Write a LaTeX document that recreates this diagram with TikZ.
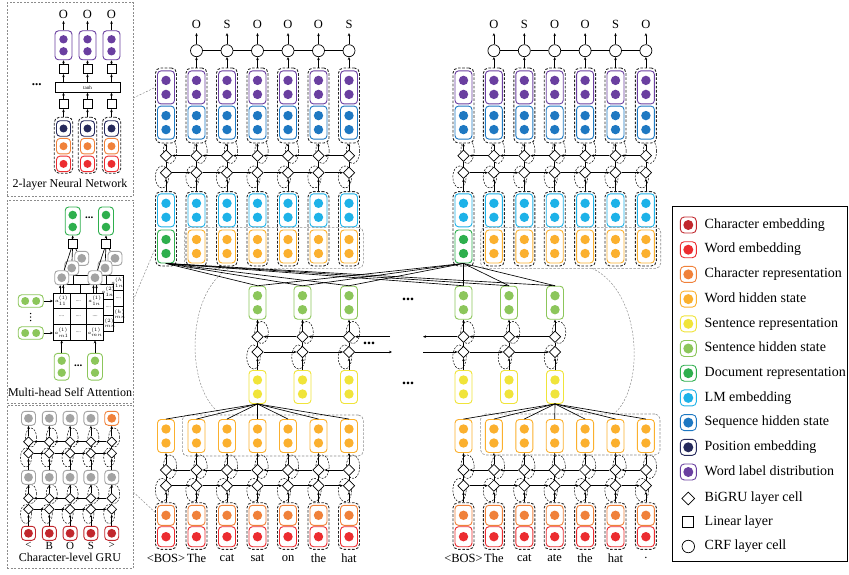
\documentclass[tikz,border=0pt]{standalone}
\usepackage{fontspec}
\setmainfont{Liberation Serif}
\usetikzlibrary{arrows.meta,shapes.geometric,calc}

\definecolor{cCharEmb}{HTML}{C1272D}
\definecolor{cWordEmb}{HTML}{EC2C30}
\definecolor{cCharRep}{HTML}{F0813A}
\definecolor{cWord}{HTML}{FBB02E}
\definecolor{cSentRep}{HTML}{F0E43A}
\definecolor{cSent}{HTML}{8CC65B}
\definecolor{cDoc}{HTML}{2EAF4D}
\definecolor{cLM}{HTML}{1DB2E8}
\definecolor{cSeq}{HTML}{1E78C2}
\definecolor{cPos}{HTML}{262A5C}
\definecolor{cLab}{HTML}{6A3FA0}
\definecolor{cGray}{HTML}{A3A3A3}

\tikzset{
  pill/.style={draw=#1, fill=white, line width=0.9pt, rounded corners=3.5pt, inner sep=0pt, minimum width=17pt},
  dots2/.style n args={3}{path picture={
      \fill[#1] ([yshift=#2]path picture bounding box.center) circle[radius=#3];
      \fill[#1] ([yshift=-#2]path picture bounding box.center) circle[radius=#3];}},
  dotsh/.style n args={3}{path picture={
      \fill[#1] ([xshift=#2]path picture bounding box.center) circle[radius=#3];
      \fill[#1] ([xshift=-#2]path picture bounding box.center) circle[radius=#3];}},
  dots1/.style n args={2}{path picture={
      \fill[#1] (path picture bounding box.center) circle[radius=#2];}},
  pilltwo/.style={pill=#1, dots2={#1}{7pt}{4.7pt}, minimum height=33pt},
  pillone/.style={pill=#1, dots1={#1}{4.7pt}, minimum height=20pt},
  gnode/.style={pill=#1, dots1={#1}{4.4pt}, minimum width=14pt, minimum height=14pt},
  obox/.style={draw=black!85, dash pattern=on 2.6pt off 1.6pt, line width=0.9pt,
      rounded corners=5pt, fill=white, inner sep=0pt, minimum width=21pt},
  cell/.style={diamond, draw, fill=white, line width=0.7pt, minimum width=11.5pt,
      minimum height=11.5pt, inner sep=0pt},
  cellsm/.style={cell, minimum width=10pt, minimum height=10pt},
  crf/.style={circle, draw, fill=white, line width=0.7pt, minimum size=12pt, inner sep=0pt},
  lin/.style={draw, fill=white, line width=0.7pt, minimum size=9pt, inner sep=0pt},
  arr/.style={line width=0.65pt, -{Stealth[length=3pt,width=2.6pt]}},
  ln/.style={line width=0.65pt},
  dring/.style={dash pattern=on 2pt off 1.3pt, line width=0.5pt},
  gdash/.style={draw=black!45, dash pattern=on 2pt off 1.5pt, line width=0.5pt},
  grect/.style={draw=black!45, dash pattern=on 2.5pt off 1.5pt, line width=0.6pt,
      rounded corners=5pt, inner sep=0pt},
  inbox/.style={draw=black!45, dash pattern=on 2pt off 1.5pt, line width=0.6pt, inner sep=0pt},
  lbl/.style={font=\fontsize{12.5}{14}\selectfont, inner sep=1pt},
  ttl/.style={font=\fontsize{12}{14}\selectfont, inner sep=0pt},
  leg/.style={font=\fontsize{14}{16}\selectfont, anchor=west, inner sep=0pt,
      text height=9.5pt, text depth=3pt},
  dotdot/.style={font=\fontsize{16}{16}\selectfont\bfseries, inner sep=0pt},
  tiny/.style={font=\fontsize{5}{6}\selectfont, inner sep=0pt},
}

% one sentence column group: name, first x, column step
\newcommand\drawgroup[3]{%
  \foreach \i in {1,...,7}{%
    \pgfmathsetmacro\xx{#2+(\i-1)*#3}
    \draw[dring] (\xx+4,151) ellipse[x radius=6.7pt, y radius=12.5pt];
    \draw[dring] (\xx-4,177) ellipse[x radius=6.7pt, y radius=11pt];
    \draw[dring] (\xx+4,466.7) ellipse[x radius=6.7pt, y radius=11.7pt];
    \draw[dring] (\xx-4,490) ellipse[x radius=6.7pt, y radius=11.7pt];
  }
  \foreach \i in {1,...,7}{%
    \pgfmathsetmacro\xx{#2+(\i-1)*#3}
    % upper tagging stack
    \node[obox, minimum height=75pt] (#1-top-\i) at (\xx,105.5) {};
    \node[pilltwo=cLab] (#1-lab-\i) at (\xx,87.4) {};
    \node[pilltwo=cSeq] (#1-seq-\i) at (\xx,122.6) {};
    \node[cell] (#1-ua-\i) at (\xx,155.7) {};
    \node[cell] (#1-ub-\i) at (\xx,172.7) {};
    \node[obox, minimum height=74.3pt] (#1-mid-\i) at (\xx,228.8) {};
    \node[pilltwo=cLM] (#1-lm-\i) at (\xx,210.3) {};
    \ifnum\i=1
      \node[pilltwo=cDoc] (#1-wh-\i) at (\xx,246.5) {};
    \else
      \node[pilltwo=cWord] (#1-wh-\i) at (\xx,246.5) {};
    \fi
    % lower word encoder stack
    \node[pilltwo=cWord] (#1-wo-\i) at (\xx,436) {};
    \node[cell] (#1-ba-\i) at (\xx,470) {};
    \node[cell] (#1-bb-\i) at (\xx,485.7) {};
    \node[obox, minimum height=46.6pt] (#1-emb-\i) at (\xx,526) {};
    \node[pillone=cCharRep] (#1-cr-\i) at (\xx,515.3) {};
    \node[pillone=cWordEmb] (#1-we-\i) at (\xx,536.7) {};
    \draw[arr] (#1-mid-\i) -- (#1-ub-\i);
    \draw[ln] (#1-ub-\i) -- (#1-ua-\i);
    \draw[arr] (#1-ua-\i) -- (#1-top-\i);
    \draw[arr] (#1-emb-\i) -- (#1-bb-\i);
    \draw[ln] (#1-bb-\i) -- (#1-ba-\i);
    \draw[arr] (#1-ba-\i) -- (#1-wo-\i);
  }
  \foreach \i [evaluate=\i as \j using int(\i+1)] in {1,...,6}{%
    \draw[arr] (#1-ua-\j) -- (#1-ua-\i);
    \draw[arr] (#1-ub-\i) -- (#1-ub-\j);
    \draw[arr] (#1-ba-\j) -- (#1-ba-\i);
    \draw[arr] (#1-bb-\i) -- (#1-bb-\j);
  }
  \foreach \i in {2,...,7}{%
    \pgfmathsetmacro\xx{#2+(\i-1)*#3}
    \node[crf] (#1-crf-\i) at (\xx,50.7) {};
    \draw[arr] (#1-top-\i) -- (#1-crf-\i);
  }
  \draw[ln] (#1-crf-2) -- (#1-crf-3) -- (#1-crf-4) -- (#1-crf-5) -- (#1-crf-6) -- (#1-crf-7);
}

% attention score grid frame: left x, top y
\newcommand\gridframe[2]{%
  \filldraw[fill=white, line width=0.6pt] (#1,#2) rectangle ++(50,47);
  \draw[line width=0.5pt] (#1+16.67,#2) -- ++(0,47) (#1+33.33,#2) -- ++(0,47)
    (#1,#2+15.67) -- ++(50,0) (#1,#2+31.33) -- ++(50,0);
}
% scores written into the front grid
\newcommand\gridscores[2]{%
  \node[tiny] at (#1+8.3,#2+7.8) {$a^{(1)}_{11}$};
  \node[tiny] at (#1+25,#2+7.8) {....};
  \node[tiny] at (#1+41.7,#2+7.8) {$a^{(1)}_{1n}$};
  \node[tiny] at (#1+8.3,#2+23.5) {....};
  \node[tiny] at (#1+25,#2+23.5) {....};
  \node[tiny] at (#1+41.7,#2+23.5) {....};
  \node[tiny] at (#1+8.3,#2+39.2) {$a^{(1)}_{m1}$};
  \node[tiny] at (#1+25,#2+39.2) {....};
  \node[tiny] at (#1+41.7,#2+39.2) {$a^{(1)}_{mn}$};
}
% visible right strip of a rear grid: strip centre x, top y, head label
\newcommand\gridstrip[3]{%
  \node[tiny] at (#1,#2+7.8) {$a^{(#3)}_{1n}$};
  \node[tiny] at (#1,#2+23.5) {....};
  \node[tiny] at (#1,#2+39.2) {$a^{(#3)}_{mn}$};
}

\begin{document}
\begin{tikzpicture}[x=1pt,y=-1pt]
\useasboundingbox (0,0) rectangle (849,575);

% ---------- document-level frame arcs ----------
\draw[gdash] (229,268.3) .. controls (186,292) and (184,390) .. (222,415);
\draw[gdash] (592,268.3) .. controls (643,292) and (645,390) .. (613,414.5);

% ---------- two sentence groups ----------
\drawgroup{L}{166}{30.5}
\drawgroup{R}{463.5}{30.4}

\node[grect, minimum width=179pt, minimum height=41pt] (L-wrect) at (273.8,247.8) {};
\node[grect, minimum width=180pt, minimum height=41pt] (R-wrect) at (570.7,247.8) {};
\node[grect, minimum width=181pt, minimum height=41pt] (L-orect) at (272.8,435.5) {};
\node[grect, minimum width=179.3pt, minimum height=41pt] (R-orect) at (570.3,434.5) {};

% output tags
\foreach \i/\t in {2/O,3/S,4/O,5/O,6/O,7/S}{
  \node[lbl, inner ysep=4.2pt] (L-out-\i) at (L-crf-\i |- 0,24.5) {\t};
  \draw[arr] (L-crf-\i) -- (L-out-\i);
}
\foreach \i/\t in {2/O,3/S,4/O,5/O,6/S,7/O}{
  \node[lbl, inner ysep=4.2pt] (R-out-\i) at (R-crf-\i |- 0,24.5) {\t};
  \draw[arr] (R-crf-\i) -- (R-out-\i);
}

% input words
\foreach \i/\t in {1/{<BOS>},2/The,3/cat,4/sat,5/on,6/the,7/hat}{
  \node[lbl] (L-w-\i) at (L-emb-\i |- 0,558.3) {\t};
}
\foreach \i/\t in {1/{<BOS>},2/The,3/cat,4/ate,5/the,6/hat,7/.}{
  \node[lbl] (R-w-\i) at (R-emb-\i |- 0,558.3) {\t};
}

% ---------- document-level BiGRU ----------
\foreach \g/\x/\k in {L/257.5/1,L/302.5/2,L/349/3,R/463.5/1,R/509/2,R/555/3}{
  \draw[dring] (\x+4,332.5) ellipse[x radius=6.8pt, y radius=11pt];
  \draw[dring] (\x-4,357) ellipse[x radius=6.8pt, y radius=12pt];
  \node[pilltwo=cSent] (\g-s-\k) at (\x,302.7) {};
  \node[cell] (\g-da-\k) at (\x,336.7) {};
  \node[cell] (\g-db-\k) at (\x,352) {};
  \node[pilltwo=cSentRep] (\g-r-\k) at (\x,387) {};
  \draw[arr] (\g-r-\k) -- (\g-db-\k);
  \draw[ln] (\g-db-\k) -- (\g-da-\k);
  \draw[arr] (\g-da-\k) -- (\g-s-\k);
}
\coordinate (L-aend) at (390,336.7);
\coordinate (L-bend) at (392,352);
\coordinate (R-aend) at (423,336.7);
\coordinate (R-bend) at (423,352);
\draw[arr] (L-da-2) -- (L-da-1);
\draw[arr] (L-da-3) -- (L-da-2);
\draw[arr] (L-aend) -- (L-da-3);
\draw[arr] (L-db-1) -- (L-db-2);
\draw[arr] (L-db-2) -- (L-db-3);
\draw[arr] (L-db-3) -- (L-bend);
\draw[arr] (R-da-1) -- (R-aend);
\draw[arr] (R-da-2) -- (R-da-1);
\draw[arr] (R-da-3) -- (R-da-2);
\draw[arr] (R-bend) -- (R-db-1);
\draw[arr] (R-db-1) -- (R-db-2);
\draw[arr] (R-db-2) -- (R-db-3);

\node[dotdot] (dots-a) at (408,299) {...};
\node[dotdot] (dots-b) at (408,383) {...};
\node[dotdot] (dots-c) at (369,343) {...};

% attention links from document representation to sentence states
\foreach \t in {L-s-1,L-s-2,L-s-3,R-s-1,R-s-2,R-s-3}{
  \draw[ln] (L-wh-1.south) -- (\t.north);
  \draw[ln] (R-wh-1.south) -- (\t.north);
}
% word states pooled into sentence representations
\foreach \i in {1,...,7}{
  \draw[ln] (L-r-1.south) -- (L-wo-\i.north);
  \draw[ln] (R-r-3.south) -- (R-wo-\i.north);
}

% ---------- inset: 2-layer neural network ----------
\node[inbox, minimum width=126pt, minimum height=193.3pt] (nnbox) at (70.3,99.35) {};
\node[ttl] (nntitle) at (70,185) {2-layer Neural Network};
\node[lin, minimum width=65pt, minimum height=9.7pt, font=\fontsize{5}{5}\selectfont] (tanh) at (87.5,87.5) {tanh};
\node[dotdot, font=\fontsize{13}{13}\selectfont\bfseries] (nndots) at (36.7,85) {...};
\foreach \i/\x in {1/63.5,2/87.5,3/111.5}{
  \node[lbl, inner ysep=2.5pt] (nn-o-\i) at (\x,14) {O};
  \node[pill=cLab, dots2={cLab}{6pt}{4.2pt}, minimum height=29pt] (nn-p-\i) at (\x,45.3) {};
  \node[lin] (nn-sa-\i) at (\x,69.3) {};
  \node[lin] (nn-sb-\i) at (\x,104.3) {};
  \node[obox, minimum width=18.5pt, minimum height=56pt] (nn-ob-\i) at (\x,145.3) {};
  \node[pill=cPos, dots1={cPos}{4pt}, minimum width=14pt, minimum height=15.5pt] (nn-pe-\i) at (\x,128.5) {};
  \node[pill=cCharRep, dots1={cCharRep}{4pt}, minimum width=14pt, minimum height=15.5pt] (nn-cr-\i) at (\x,146.2) {};
  \node[pill=cWordEmb, dots1={cWordEmb}{4pt}, minimum width=14pt, minimum height=15.5pt] (nn-we-\i) at (\x,163.9) {};
  \draw[arr] (nn-ob-\i) -- (nn-sb-\i);
  \draw[arr] (nn-sb-\i) -- (nn-sb-\i |- tanh.south);
  \draw[arr] (tanh.north -| nn-sa-\i) -- (nn-sa-\i);
  \draw[arr] (nn-sa-\i) -- (nn-p-\i);
  \draw[arr] (nn-p-\i) -- (nn-o-\i);
}

% ---------- inset: multi-head self attention ----------
\node[inbox, minimum width=126pt, minimum height=203.3pt] (atbox) at (70.3,301.65) {};
\node[ttl] (attitle) at (70,392.3) {Multi-head Self Attention};
\gridframe{73.3}{275}
\gridstrip{118.3}{275}{h}
\gridframe{63.3}{284}
\gridstrip{108.3}{284}{2}
\node[draw, fill=white, line width=0.6pt, minimum width=50pt, minimum height=47pt, inner sep=0pt] (grid) at (78.3,316.5) {};
\gridframe{53.3}{293}
\gridscores{53.3}{293}
\node[gnode=cGray] (g-a3) at (81.7,258.3) {};
\node[gnode=cGray] (g-a2) at (71.7,268) {};
\node[gnode=cGray] (g-a1) at (61.7,277.7) {};
\node[gnode=cGray] (g-b3) at (115,258.3) {};
\node[gnode=cGray] (g-b2) at (105,268) {};
\node[gnode=cGray] (g-b1) at (95,277.7) {};
\node[lin] (at-sq1) at (72.7,244.3) {};
\node[lin] (at-sq2) at (106,244.3) {};
\node[pill=cDoc, dots2={cDoc}{6pt}{4.3pt}, minimum width=15pt, minimum height=28pt] (at-d1) at (72.7,221) {};
\node[pill=cDoc, dots2={cDoc}{6pt}{4.3pt}, minimum width=15pt, minimum height=28pt] (at-d2) at (106,221) {};
\node[dotdot, font=\fontsize{11}{11}\selectfont\bfseries] (at-dots1) at (89.3,218) {...};
\draw[arr] (at-sq1) -- (at-d1);
\draw[arr] (at-sq2) -- (at-d2);
\foreach \k in {1,2,3}{
  \draw[ln] (g-a\k) -- (at-sq1);
  \draw[ln] (g-b\k) -- (at-sq2);
}
\foreach \n in {g-a1,g-b1}{
  \draw[arr] ([xshift=-1.5pt]\n.south |- grid.north) -- ([xshift=-1.5pt]\n.south);
  \draw[arr] ([xshift=1.5pt]\n.south |- grid.north) -- ([xshift=1.5pt]\n.south);
}
\node[pill=cSent, dotsh={cSent}{5.5pt}{4pt}, minimum width=25pt, minimum height=12.5pt] (at-l1) at (30.7,301) {};
\node[pill=cSent, dotsh={cSent}{5.5pt}{4pt}, minimum width=25pt, minimum height=12.5pt] (at-l2) at (30.7,333) {};
% vertical ellipsis between the two sentence rows
\foreach \yy in {313.5,317,320.5}{ \fill (30.7,\yy) circle[radius=0.75pt]; }
\draw[arr] (at-l1) -- (at-l1 -| grid.west);
\draw[arr] (at-l2) -- (at-l2 -| grid.west);
\node[pill=cSent, dots2={cSent}{6pt}{4.2pt}, minimum width=15pt, minimum height=26.7pt] (at-b1) at (61.7,366.7) {};
\node[pill=cSent, dots2={cSent}{6pt}{4.2pt}, minimum width=15pt, minimum height=26.7pt] (at-b2) at (95,366.7) {};
\node[dotdot, font=\fontsize{11}{11}\selectfont\bfseries] (at-dots2) at (78.3,366) {...};
\draw[arr] (at-b1) -- (at-b1 |- grid.south);
\draw[arr] (at-b2) -- (at-b2 |- grid.south);

% ---------- inset: character-level GRU ----------
\node[inbox, minimum width=126pt, minimum height=163.3pt] (gbox) at (70.3,486.65) {};
\node[ttl] (gtitle) at (70,557.3) {Character-level GRU};
\foreach \i/\x in {1/28.5,2/49.3,3/70.1,4/90.9,5/111.7}{
  \draw[dring] (\x+2.5,437.5) ellipse[x radius=5.5pt, y radius=9.5pt];
  \draw[dring] (\x-2.5,457.5) ellipse[x radius=5.5pt, y radius=9.5pt];
  \draw[dring] (\x+2.5,494) ellipse[x radius=5.5pt, y radius=9.5pt];
  \draw[dring] (\x-2.5,514) ellipse[x radius=5.5pt, y radius=9.5pt];
}
\foreach \i/\x/\t in {1/28.5/<,2/49.3/B,3/70.1/O,4/90.9/S,5/111.7/>}{
  \ifnum\i=5
    \node[gnode=cCharRep] (c-t-\i) at (\x,418.3) {};
  \else
    \node[gnode=cGray] (c-t-\i) at (\x,418.3) {};
  \fi
  \node[cellsm] (c-a-\i) at (\x,441.7) {};
  \node[cellsm] (c-b-\i) at (\x,453.3) {};
  \node[gnode=cGray] (c-m-\i) at (\x,477.3) {};
  \node[cellsm] (c-c-\i) at (\x,498.3) {};
  \node[cellsm] (c-d-\i) at (\x,509.3) {};
  \node[gnode=cCharEmb] (c-e-\i) at (\x,533.3) {};
  \node[lbl, font=\fontsize{11}{12}\selectfont] (c-ch-\i) at (\x,545.5) {\t};
  \draw[arr] (c-e-\i) -- (c-d-\i);
  \draw[ln] (c-d-\i) -- (c-c-\i);
  \draw[arr] (c-c-\i) -- (c-m-\i);
  \draw[arr] (c-m-\i) -- (c-b-\i);
  \draw[ln] (c-b-\i) -- (c-a-\i);
  \draw[arr] (c-a-\i) -- (c-t-\i);
}
\foreach \i [evaluate=\i as \j using int(\i+1)] in {1,...,4}{
  \draw[arr] (c-a-\j) -- (c-a-\i);
  \draw[arr] (c-b-\i) -- (c-b-\j);
  \draw[arr] (c-c-\j) -- (c-c-\i);
  \draw[arr] (c-d-\i) -- (c-d-\j);
}

% ---------- zoom links from insets ----------
\coordinate (lk1) at (133.3,98);
\coordinate (lk2) at (133.3,300);
\coordinate (lk3) at (133.3,492);
\draw[gdash] (lk1) -- ([yshift=18pt]L-top-1.west);
\draw[gdash] (lk2) -- ([yshift=-20pt]L-mid-1.west);
\draw[gdash] (lk3) -- ([yshift=-10pt]L-emb-1.north west);

% ---------- legend ----------
\node[draw, line width=0.6pt, minimum width=175pt, minimum height=355.7pt, inner sep=0pt] (legend) at (760.2,383.85) {};
\foreach \k/\c/\t in {1/cCharEmb/Character embedding,2/cWordEmb/Word embedding,
    3/cCharRep/Character representation,4/cWord/Word hidden state,
    5/cSentRep/Sentence representation,6/cSent/Sentence hidden state,
    7/cDoc/Document representation,8/cLM/LM embedding,
    9/cSeq/Sequence hidden state,10/cPos/Position embedding,
    11/cLab/Word label distribution}{
  \pgfmathsetmacro\yy{225+24.7*(\k-1)}
  \node[pill=\c, dots1={\c}{5pt}, minimum width=16pt, minimum height=16pt, rounded corners=4pt] (leg-\k) at (688.3,\yy) {};
  \node[leg] (legt-\k) at (704.5,\yy) {\t};
}
\node[cell, minimum width=13pt, minimum height=13pt] (leg-12) at (688.3,498.5) {};
\node[leg] (legt-12) at (704.5,498.5) {BiGRU layer cell};
\node[lin, minimum size=11pt] (leg-13) at (688.3,522) {};
\node[leg] (legt-13) at (704.5,522) {Linear layer};
\node[crf, minimum size=12.5pt] (leg-14) at (688.3,546.5) {};
\node[leg] (legt-14) at (704.5,546.5) {CRF layer cell};

\end{tikzpicture}
\end{document}
